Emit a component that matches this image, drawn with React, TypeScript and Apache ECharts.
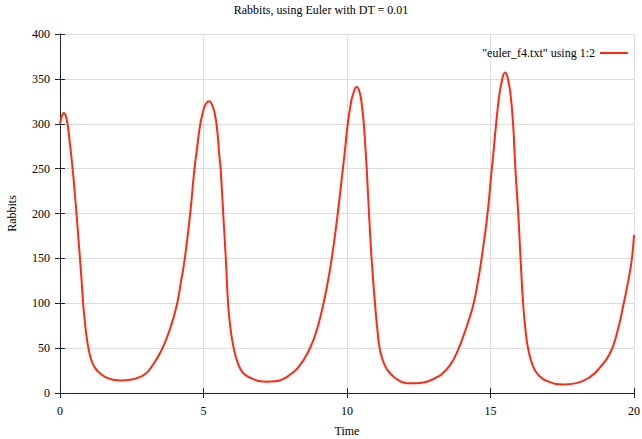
import React, { useEffect, useRef } from "react";
import * as echarts from "echarts";

const times: number[] = [
  0, 0.05, 0.1, 0.14, 0.2, 0.26, 0.32, 0.39, 0.46, 0.52, 0.58, 0.64, 0.7, 0.76, 0.81, 0.87, 0.93, 0.99, 1.08, 1.2,
  1.39, 1.7, 2.09, 2.5, 2.8, 3.0, 3.14, 3.35, 3.6, 3.85, 4.07, 4.21, 4.34, 4.53, 4.68, 4.78, 4.88, 4.98, 5.08, 5.2,
  5.3, 5.4, 5.48, 5.55, 5.6, 5.69, 5.78, 5.86, 5.94, 6.04, 6.2, 6.39, 6.7, 6.97, 7.2, 7.5, 7.8, 8.0, 8.2, 8.36,
  8.6, 8.83, 9.0, 9.17, 9.32, 9.46, 9.67, 9.85, 9.94, 10.02, 10.12, 10.22, 10.34, 10.44, 10.52, 10.59, 10.64, 10.69,
  10.77, 10.86, 10.98, 11.06, 11.15, 11.3, 11.5, 11.8, 12.08, 12.4, 12.7, 12.9, 13.1, 13.3, 13.59, 13.8, 14.05,
  14.22, 14.4, 14.55, 14.68, 14.89, 15.04, 15.12, 15.19, 15.28, 15.38, 15.51, 15.6, 15.7, 15.79, 15.83, 15.87,
  15.97, 16.05, 16.14, 16.22, 16.32, 16.48, 16.67, 17.0, 17.54, 18.0, 18.47, 18.8, 19.16, 19.4, 19.63, 19.8, 19.92,
  20,
];
const rabbits: number[] = [
  300, 307, 311, 312, 309, 300, 285, 265, 243, 221, 198, 173, 148, 122, 98, 78, 62, 50, 38, 29,
  22, 16, 14, 15, 18, 22, 27, 37, 52, 73, 98, 123, 148, 198, 248, 274, 298, 313, 322, 325,
  321, 310, 292, 265, 248, 198, 148, 98, 72, 52, 33, 22, 16, 13, 12.5, 13, 16, 20, 25, 31,
  43, 59, 76, 98, 122, 148, 198, 248, 274, 298, 320, 334, 341, 335, 320, 298, 274, 248,
  198, 148, 98, 70, 48, 32, 22, 14, 11, 11, 12, 14, 17, 21, 31, 43, 63,
  79, 98, 122, 148, 198, 248, 274, 298, 325, 345, 357, 351, 332, 298, 274, 248,
  198, 148, 98, 70, 48, 30, 20, 13, 9.5, 11, 18, 28, 44, 66, 98, 125, 148,
  176,
];
const xTicks: number[] = [0, 5, 10, 15, 20];
const yTicks: number[] = [0, 50, 100, 150, 200, 250, 300, 350, 400];

const FONT = "'Liberation Serif', 'DejaVu Serif', serif";
const RED = "#ff2a10";
const SERIES_NAME = '"euler_f4.txt" using 1:2';

export default function App() {
  const ref = useRef<HTMLDivElement>(null);
  useEffect(() => {
    if (!ref.current) return;
    const chart = echarts.init(ref.current, null, { renderer: "svg" });
    const data = times.map((t, i) => [t, rabbits[i]]);
    const axisLine = { show: true, lineStyle: { color: "#222", width: 1 } };
    const tick = { show: true, inside: true, length: 5, lineStyle: { color: "#222" } };
    chart.setOption({
      animation: false,
      backgroundColor: "#fff",
      textStyle: { fontFamily: FONT },
      title: {
        text: "Rabbits, using Euler with DT = 0.01",
        left: "center",
        top: -1,
        textStyle: { fontFamily: FONT, fontSize: 12, fontWeight: "normal", color: "#000" },
      },
      legend: {
        data: [SERIES_NAME],
        right: 9,
        top: 42,
        itemWidth: 28,
        itemHeight: 2,
        icon: "rect",
        align: "right",
        itemGap: 5,
        textStyle: { fontFamily: FONT, fontSize: 12, color: "#000" },
      },
      grid: { left: 60, right: 8, top: 34, bottom: 46, containLabel: false, outerBoundsMode: "none" },
      xAxis: [
        {
          type: "value",
          min: xTicks[0],
          max: xTicks[xTicks.length - 1],
          interval: 5,
          name: "Time",
          nameLocation: "middle",
          nameGap: 32,
          nameTextStyle: { fontFamily: FONT, fontSize: 12, color: "#000" },
          axisLine,
          axisTick: tick,
          axisLabel: { color: "#000", fontFamily: FONT, fontSize: 12, margin: 12 },
          splitLine: { show: true, lineStyle: { color: "#dcdcdc", width: 1 } },
        },
        {
          type: "value",
          position: "top",
          min: xTicks[0],
          max: xTicks[xTicks.length - 1],
          interval: 5,
          axisLine,
          axisTick: tick,
          axisLabel: { show: false },
          splitLine: { show: false },
        },
      ],
      yAxis: [
        {
          type: "value",
          min: yTicks[0],
          max: yTicks[yTicks.length - 1],
          interval: 50,
          name: "Rabbits",
          nameLocation: "middle",
          nameGap: 42,
          nameTextStyle: { fontFamily: FONT, fontSize: 12, color: "#000" },
          axisLine,
          axisTick: tick,
          axisLabel: { color: "#000", fontFamily: FONT, fontSize: 12, margin: 10 },
          splitLine: { show: true, lineStyle: { color: "#dcdcdc", width: 1 } },
        },
        {
          type: "value",
          position: "right",
          min: yTicks[0],
          max: yTicks[yTicks.length - 1],
          interval: 50,
          axisLine,
          axisTick: tick,
          axisLabel: { show: false },
          splitLine: { show: false },
        },
      ],
      series: [
        {
          name: SERIES_NAME,
          type: "line",
          data,
          smooth: 0.5,
          showSymbol: false,
          symbol: "none",
          lineStyle: { color: RED, width: 2 },
          itemStyle: { color: RED },
        },
      ],
    });
    return () => chart.dispose();
  }, []);
  return <div ref={ref} style={{ position: "fixed", left: 0, top: 0, width: 642, height: 439 }} />;
}
